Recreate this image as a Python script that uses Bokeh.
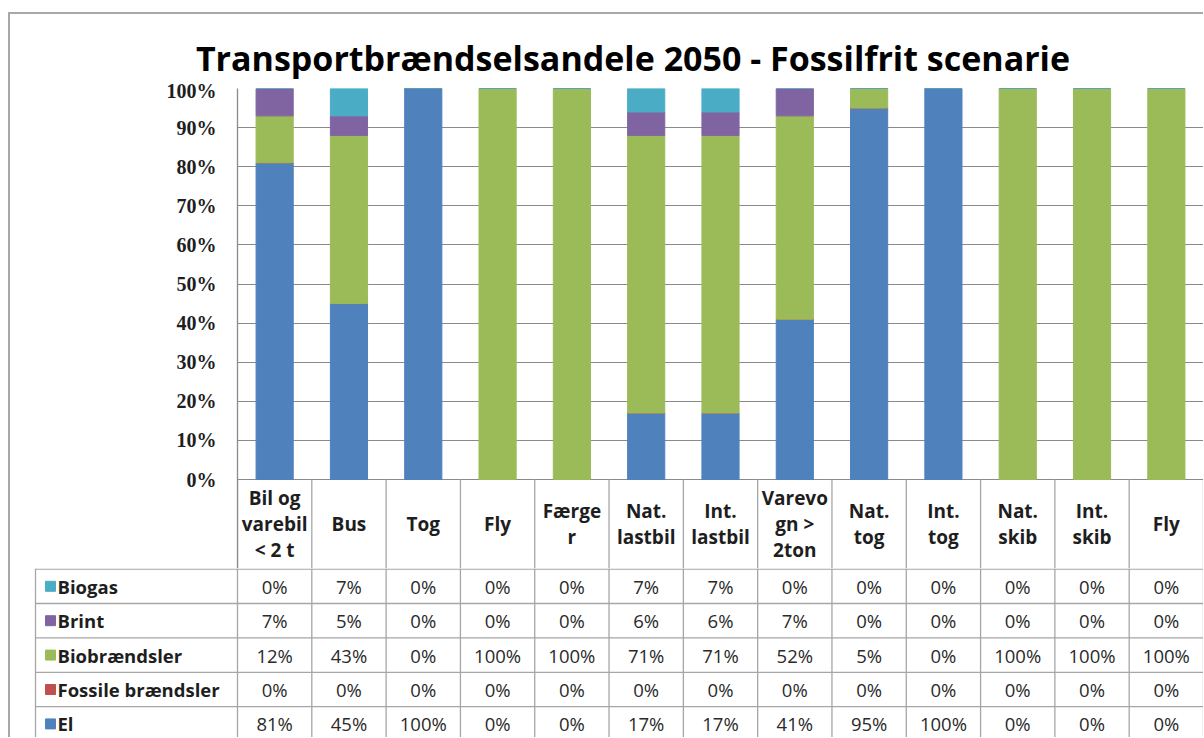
from bokeh.plotting import figure
from bokeh.models import Range1d, FixedTicker, PrintfTickFormatter, ColumnDataSource
from bokeh.layouts import column
from bokeh.embed import file_html
from bokeh.resources import INLINE
from bokeh.core.properties import value

# ---------------- data ----------------
categories = ["Bil og\nvarebil\n< 2 t", "Bus", "Tog", "Fly", "Færge\nr", "Nat.\nlastbil",
              "Int.\nlastbil", "Varevo\ngn >\n2ton", "Nat.\ntog", "Int.\ntog", "Nat.\nskib",
              "Int.\nskib", "Fly"]
series_names = ["El", "Fossile brændsler", "Biobrændsler", "Brint", "Biogas"]
el = [81, 45, 100, 0, 0, 17, 17, 41, 95, 100, 0, 0, 0]
fossile = [0, 0, 0, 0, 0, 0, 0, 0, 0, 0, 0, 0, 0]
bio = [12, 43, 0, 100, 100, 71, 71, 52, 5, 0, 100, 100, 100]
brint = [7, 5, 0, 0, 0, 6, 6, 7, 0, 0, 0, 0, 0]
biogas = [0, 7, 0, 0, 0, 7, 7, 0, 0, 0, 0, 0, 0]
series_colors = ["#4F81BD", "#C0504D", "#9BBB59", "#8064A2", "#4BACC6"]
y_ticks = [0, 10, 20, 30, 40, 50, 60, 70, 80, 90, 100]
title_text = "Transportbrændselsandele 2050 - Fossilfrit scenarie"

# ---------------- layout constants (pixels) ----------------
W = 1193
LEFT = 227
FRAME_W = W - LEFT
HT = 65               # title strip height
TOP = 9
PLOT_H = 391          # 0%..100%
HH = 89               # header row height
HA = TOP + PLOT_H + HH
HB = 169
N = len(categories)
CW = FRAME_W / N
PXU = PLOT_H / 100.0  # pixels per percent
RH = 34.4
GRID = "#8a8a8a"
TABLE_LINE = "#a6a6a6"
TXT = "#1e1e1e"
VAL = "#2a2a2a"
FONT = "Open Sans"
x0 = -LEFT / CW

xs = [i + 0.5 for i in range(N)]
keys = ["el", "fossile", "bio", "brint", "biogas"]
src = ColumnDataSource(dict(x=xs, el=el, fossile=fossile, bio=bio, brint=brint, biogas=biogas))

# ---------------- title strip ----------------
pT = figure(width=W, height=HT, x_range=Range1d(x0, N), y_range=Range1d(HT, 0),
            output_backend="svg", toolbar_location=None, x_axis_location=None,
            y_axis_location=None, min_border=0)
pT.frame_align = False
pT.outline_line_color = None
pT.grid.visible = False
title_cx = ((185 + 1080) / 2 - 10 - LEFT) / CW
pT.text(x=[title_cx], y=[43], text=[title_text], text_align="center",
        text_baseline="middle", text_font=value(FONT), text_font_style="bold",
        text_font_size="34px", text_color="#000000")

# ---------------- chart (with header row of the table) ----------------
y_head = -HH / PXU
pA = figure(width=W, height=HA, x_range=Range1d(0, N), y_range=Range1d(y_head, 100),
            output_backend="svg", toolbar_location=None, x_axis_location=None,
            min_border_left=LEFT, min_border_right=0, min_border_top=TOP, min_border_bottom=0)
pA.frame_align = False
pA.vbar_stack(keys, x="x", width=0.5, color=series_colors, source=src)
pA.outline_line_color = None
pA.xgrid.grid_line_color = None
pA.ygrid.grid_line_color = GRID
pA.ygrid.ticker = FixedTicker(ticks=y_ticks)
ax = pA.yaxis[0]
ax.ticker = FixedTicker(ticks=y_ticks)
ax.formatter = PrintfTickFormatter(format="%d%%")
ax.axis_line_color = GRID
ax.axis_line_width = 1.3
ax.major_tick_line_color = None
ax.minor_tick_line_color = None
ax.major_tick_out = 0
ax.major_tick_in = 0
ax.major_label_standoff = 21
ax.major_label_text_font = "Liberation Serif"
ax.major_label_text_font_style = "bold"
ax.major_label_text_font_size = "20px"
ax.major_label_text_color = TXT

# header cells
vx = list(range(N + 1))
pA.segment(x0=vx, x1=vx, y0=[0] * len(vx), y1=[y_head] * len(vx),
           line_color=TABLE_LINE, line_width=1.3)
pA.text(x=xs, y=[y_head / 2] * N, text=categories, text_align="center", text_baseline="middle",
        text_font=value(FONT), text_font_style="bold", text_font_size="19px",
        text_line_height=1.0, text_color=TXT)

# ---------------- data rows of the table ----------------
leg_x = (25 - LEFT) / CW
pB = figure(width=W, height=HB, x_range=Range1d(x0, N), y_range=Range1d(HB, 0),
            output_backend="svg", toolbar_location=None, x_axis_location=None,
            y_axis_location=None, min_border=0)
pB.frame_align = False
pB.outline_line_color = None
pB.grid.visible = False

hx0, hx1, hy = [], [], []
for k in range(len(series_names) + 1):
    hx0.append(leg_x); hx1.append(N); hy.append(0.6 + k * RH)
pB.segment(x0=hx0, x1=hx1, y0=hy, y1=hy, line_color=TABLE_LINE, line_width=1.3)
pB.segment(x0=vx + [leg_x], x1=vx + [leg_x], y0=[0] * (len(vx) + 1), y1=[HB] * (len(vx) + 1),
           line_color=TABLE_LINE, line_width=1.3)

row_order = [("Biogas", biogas, "#4BACC6"), ("Brint", brint, "#8064A2"),
             ("Biobrændsler", bio, "#9BBB59"), ("Fossile brændsler", fossile, "#C0504D"),
             ("El", el, "#4F81BD")]
sq_x = (40 - LEFT) / CW
lab_x = (47 - LEFT) / CW
for r, (name, vals, col) in enumerate(row_order):
    yc = r * RH + RH / 2 + 0.6
    pB.scatter(x=[sq_x], y=[yc], marker="square", size=10, fill_color=col, line_color=col)
    pB.text(x=[lab_x], y=[yc], text=[name], text_align="left", text_baseline="middle",
            text_font=value(FONT), text_font_style="bold", text_font_size="18.5px", text_color=TXT)
    pB.text(x=xs, y=[yc] * N, text=[f"{v}%" for v in vals], text_align="center",
            text_baseline="middle", text_font=value(FONT), text_font_size="18.5px", text_color=VAL)

layout = column(pT, pA, pB, spacing=0,
                styles={"margin-left": "8px", "margin-top": "12px",
                        "border-top": "2px solid #a8a8a8", "border-left": "2px solid #a8a8a8"})

open("out.html", "w").write(file_html(layout, INLINE))
